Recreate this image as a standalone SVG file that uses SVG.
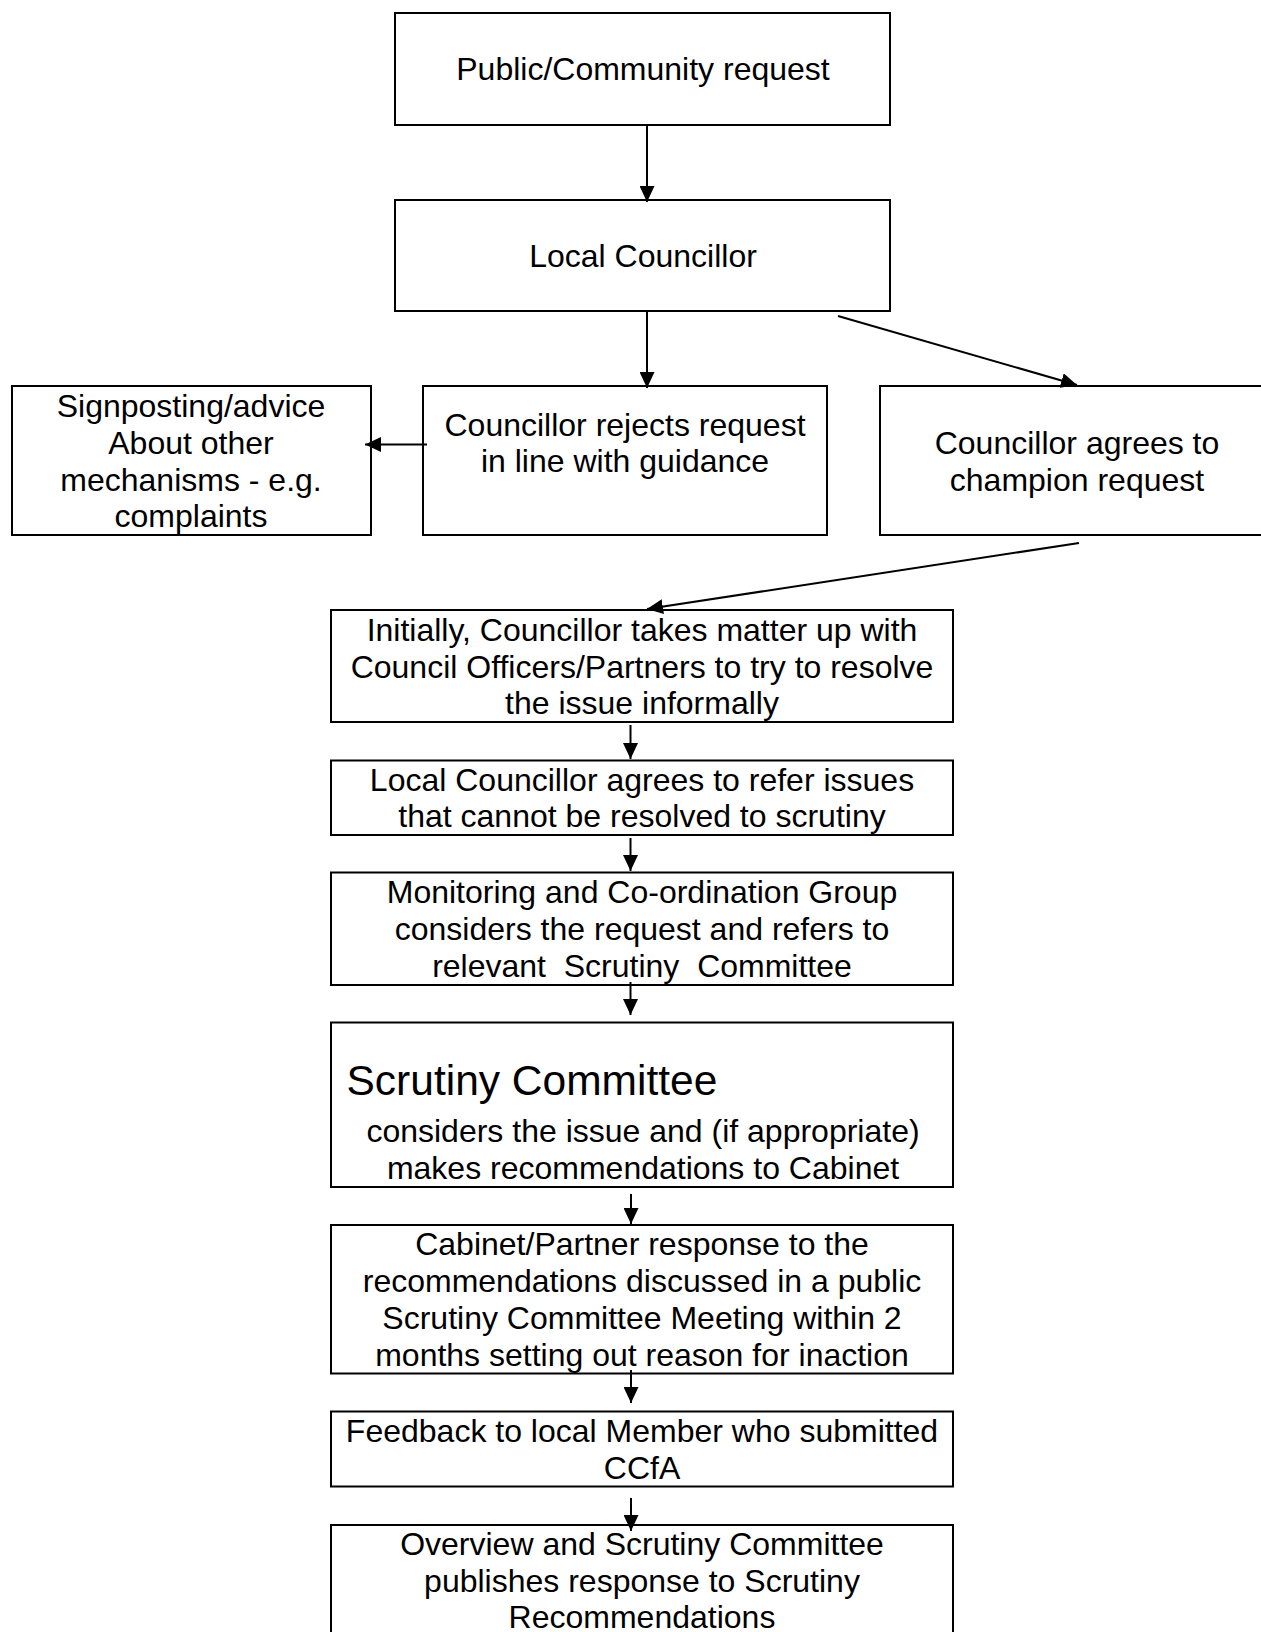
<svg xmlns="http://www.w3.org/2000/svg" width="1261" height="1632" viewBox="0 0 1261 1632">
<style>
.box{fill:#fff;stroke:#000;stroke-width:2}
.t{font-family:"Liberation Sans",Arial,sans-serif;font-size:32px;fill:#000;text-anchor:middle;white-space:pre}
.big{font-family:"Liberation Sans",Arial,sans-serif;font-size:42.5px;fill:#000}
.c{stroke:#000;stroke-width:2;fill:none;marker-end:url(#ah)}
</style>
<defs>
<marker id="ah" markerUnits="userSpaceOnUse" markerWidth="16" markerHeight="15" viewBox="0 0 16 15" refX="16" refY="7.5" orient="auto">
<path d="M0,0 L16,7.5 L0,15 Z" fill="#000"/>
</marker>
</defs>
<rect width="1261" height="1632" fill="#fff"/>
<g id="n1"><rect class="box" x="395" y="13" width="495" height="112"/><text class="t" x="643" y="80">Public/Community request</text></g>
<g id="n2"><rect class="box" x="395" y="200" width="495" height="111"/><text class="t" x="643" y="267">Local Councillor</text></g>
<g id="n3"><rect class="box" x="12" y="386" width="359" height="149"/>
<text class="t" x="191" y="417">Signposting/advice</text><text class="t" x="191" y="453.5">About other</text><text class="t" x="191" y="491">mechanisms - e.g.</text><text class="t" x="191" y="527">complaints</text></g>
<g id="n4"><rect class="box" x="423" y="386" width="404" height="149"/>
<text class="t" x="625" y="436">Councillor rejects request</text><text class="t" x="625" y="472">in line with guidance</text></g>
<g id="n5"><rect class="box" x="880" y="386" width="394" height="149"/>
<text class="t" x="1077" y="453.5">Councillor agrees to</text><text class="t" x="1077" y="491">champion request</text></g>
<g id="n6"><rect class="box" x="331" y="610" width="622" height="112"/>
<text class="t" x="642" y="641">Initially, Councillor takes matter up with</text><text class="t" x="642" y="677.5">Council Officers/Partners to try to resolve</text><text class="t" x="642" y="714">the issue informally</text></g>
<g id="n7"><rect class="box" x="331" y="760.5" width="622" height="74.5"/>
<text class="t" x="642" y="790.5">Local Councillor agrees to refer issues</text><text class="t" x="642" y="827">that cannot be resolved to scrutiny</text></g>
<g id="n8"><rect class="box" x="331" y="872.5" width="622" height="112.5"/>
<text class="t" x="642" y="903">Monitoring and Co-ordination Group</text><text class="t" x="642" y="939.5">considers the request and refers to</text><text class="t" x="642" y="977">relevant  Scrutiny  Committee</text></g>
<g id="n9"><rect class="box" x="331" y="1022.5" width="622" height="164.5"/>
<text class="big" x="346.5" y="1094.5">Scrutiny Committee</text>
<text class="t" x="643" y="1142">considers the issue and (if appropriate)</text><text class="t" x="643" y="1178.7">makes recommendations to Cabinet</text></g>
<g id="n10"><rect class="box" x="331" y="1225" width="622" height="148.5"/>
<text class="t" x="642" y="1254.6">Cabinet/Partner response to the</text><text class="t" x="642" y="1292">recommendations discussed in a public</text><text class="t" x="642" y="1328.5">Scrutiny Committee Meeting within 2</text><text class="t" x="642" y="1366">months setting out reason for inaction</text></g>
<g id="n11"><rect class="box" x="331" y="1411.5" width="622" height="75"/>
<text class="t" x="642" y="1442">Feedback to local Member who submitted</text><text class="t" x="642" y="1478.5">CCfA</text></g>
<g id="n12"><rect class="box" x="331" y="1525" width="622" height="130"/>
<text class="t" x="642" y="1555">Overview and Scrutiny Committee</text><text class="t" x="642" y="1592">publishes response to Scrutiny</text><text class="t" x="642" y="1628">Recommendations</text></g>
<g id="connectors">
<line class="c" x1="647" y1="125" x2="647" y2="202"/>
<line class="c" x1="647" y1="311" x2="647" y2="388"/>
<line class="c" x1="838" y1="316" x2="1077" y2="385"/>
<line class="c" x1="427" y1="444.5" x2="365" y2="444.5"/>
<line class="c" x1="1079" y1="543" x2="647" y2="609"/>
<line class="c" x1="630.5" y1="725" x2="630.5" y2="759"/>
<line class="c" x1="630.5" y1="838" x2="630.5" y2="871"/>
<line class="c" x1="630.5" y1="982" x2="630.5" y2="1015"/>
<line class="c" x1="631" y1="1194" x2="631" y2="1224"/>
<line class="c" x1="631" y1="1370" x2="631" y2="1403"/>
<line class="c" x1="631" y1="1498" x2="631" y2="1531"/>
</g>
</svg>
